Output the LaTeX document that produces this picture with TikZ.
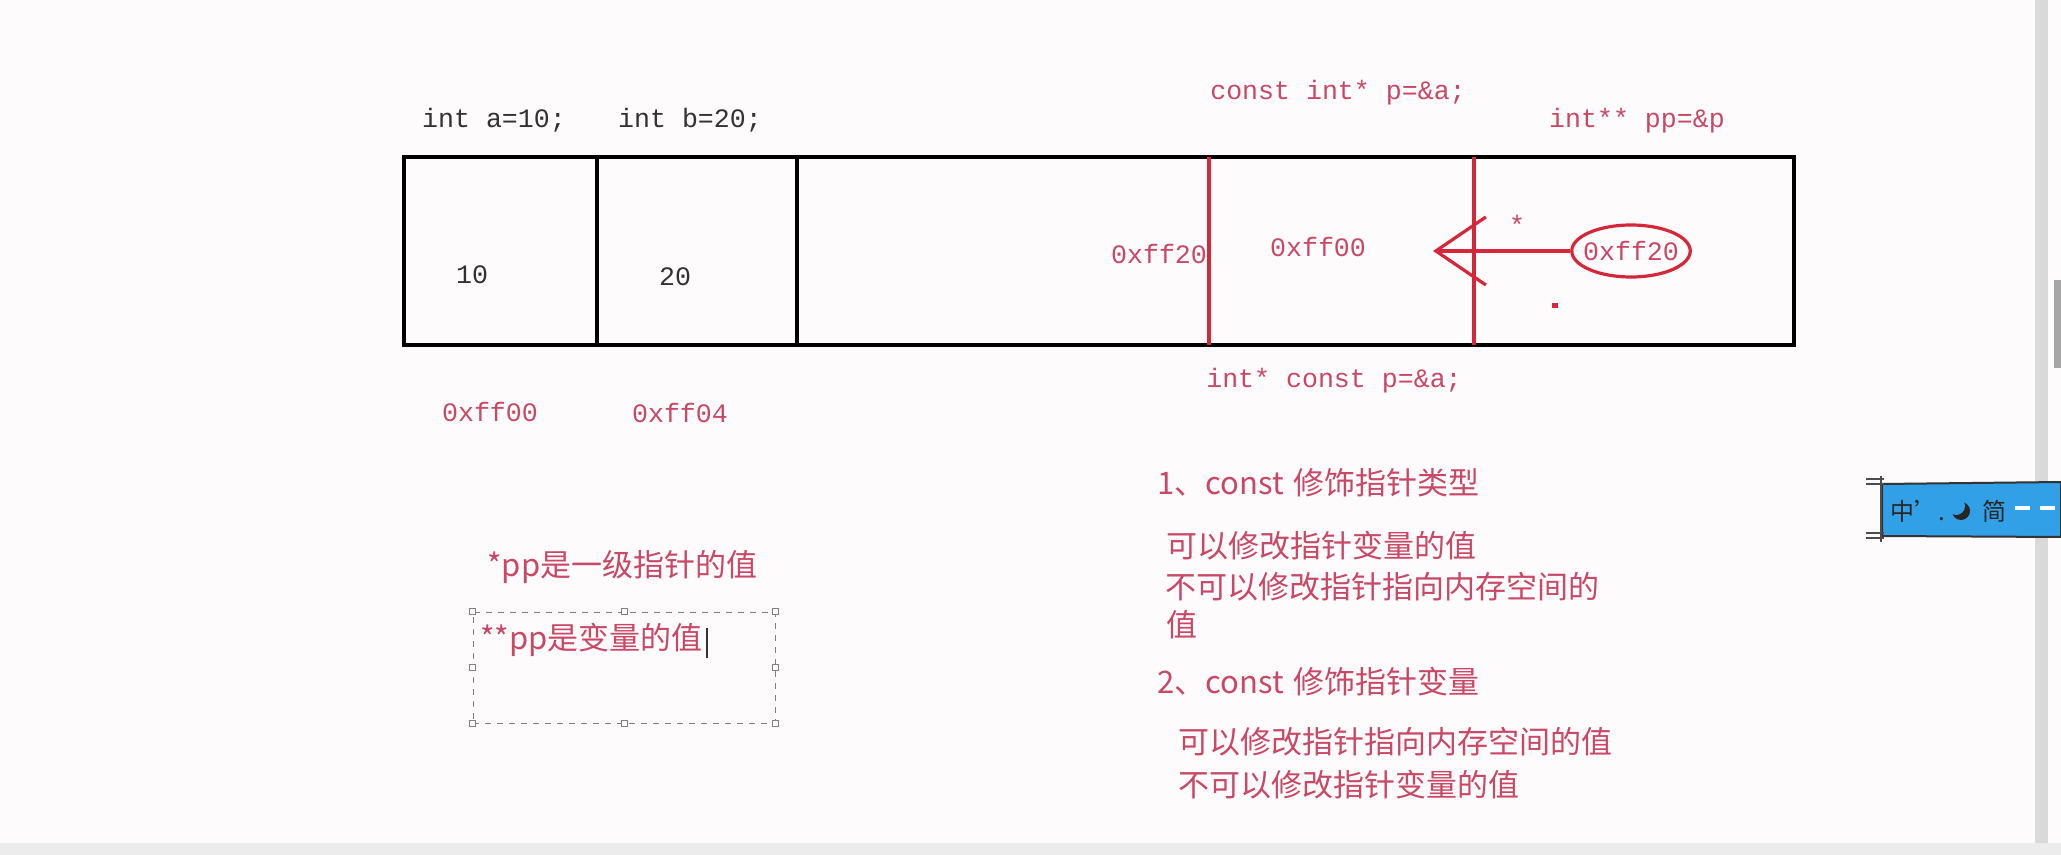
\documentclass[tikz,border=0pt]{standalone}
\usepackage{fontspec}
\setmonofont{Liberation Mono}
\newfontfamily\cjk{Noto Sans CJK SC}
\usepackage{tikz}
\usetikzlibrary{arrows.meta,shapes.geometric,positioning}
\definecolor{codered}{RGB}{200,72,102}
\definecolor{linered}{RGB}{214,38,58}
\definecolor{inkgray}{RGB}{50,50,50}
\definecolor{imeblue}{RGB}{50,160,230}
\definecolor{pagebg}{RGB}{253,251,252}

\begin{document}
\begin{tikzpicture}[x=0.5pt,y=-0.5pt,
    code/.style={font=\fontsize{13.3}{16}\selectfont\ttfamily,inner sep=0pt},
    blacktext/.style={code,text=inkgray},
    redtext/.style={code,text=codered},
    note/.style={font=\fontsize{15.5}{19}\selectfont\cjk,text=codered,inner sep=0pt,anchor=west},
    handle/.style={draw=gray,fill=white,line width=0.5pt,minimum size=3pt,inner sep=0pt}]
  \def\xl{404}
  \def\xr{1794}
  \def\yt{157}
  \def\yb{345}
  \useasboundingbox (0,0) rectangle (2061,855);
  % page
  \fill[pagebg] (0,0) rectangle (2061,855);
  \fill[gray!15] (0,843) rectangle (2061,855);
  \fill[gray!30] (2035,0) rectangle (2048,843);
  \fill[gray!70] (2054,280) rectangle (2061,368);
  % memory strip
  \draw[line width=2pt] (\xl,\yt) rectangle (\xr,\yb);
  \draw[line width=2pt] (597,\yt) -- (597,\yb);
  \draw[line width=2pt] (797,\yt) -- (797,\yb);
  \draw[linered,line width=1.6pt] (1209,\yt) -- (1209,\yb);
  \draw[linered,line width=1.6pt] (1474,\yt) -- (1474,\yb);
  % declarations
  \node[blacktext] (inta) at (494,120) {int a=10;};
  \node[blacktext] (intb) at (690,120) {int b=20;};
  \node[redtext] (cptr) at (1338,93) {const int* p=\&a;};
  \node[redtext] (ppdecl) at (1637,121) {int** pp=\&p};
  \node[redtext] (ptrc) at (1334,381) {int* const p=\&a;};
  % values
  \node[blacktext] (vala) at (472,275) {10};
  \node[blacktext] (valb) at (675,277) {20};
  \node[redtext] (addrp) at (1159,254) {0xff20};
  \node[redtext] (valp) at (1318,247) {0xff00};
  \node[redtext,draw=linered,line width=1.6pt,ellipse,inner xsep=-3pt,minimum height=26pt] (valpp) at (1631,251) {0xff20};
  \coordinate (tip) at (1433,251);
  \draw[linered,line width=1.6pt,-{Straight Barb[length=25pt,width=34pt]}] (valpp.west) -- (tip);
  \node[redtext] (deref) at (1517,225) {*};
  \fill[linered] (1552,303) rectangle (1558,308);
  % addresses
  \node[redtext] (addra) at (490,412) {0xff00};
  \node[redtext] (addrb) at (680,413) {0xff04};
  % notes
  \node[note] (pp1) at (487,567) {*pp是一级指针的值};
  \node[draw=gray,dashed,line width=0.5pt,minimum width=151pt,minimum height=55.5pt] (editbox) at (624,667.5) {};
  \foreach \a in {north west,north,north east,east,south east,south,south west,west}
    \node[handle] at (editbox.\a) {};
  \node[note] (pp2) at (480,640) {**pp是变量的值};
  \draw[inkgray,line width=0.8pt] (707,628) -- (707,658);
  \node[note] (rule1) at (1157,483) {1、const\hspace{5pt}修饰指针类型};
  \node[note] (r1a) at (1166,546) {可以修改指针变量的值};
  \node[note] (r1b) at (1165,587) {不可以修改指针指向内存空间的};
  \node[note] (r1c) at (1166,625) {值};
  \node[note] (rule2) at (1157,682) {2、const\hspace{5pt}修饰指针变量};
  \node[note] (r2a) at (1178,742) {可以修改指针指向内存空间的值};
  \node[note] (r2b) at (1178,785) {不可以修改指针变量的值};
  % input bar
  \fill[imeblue,draw=black!80,line width=1pt] (1882,484) -- (2061,482) -- (2061,537) -- (1882,536) -- cycle;
  \draw[black!70,line width=0.7pt] (1866,479) -- (1884,479) (1866,484) -- (1884,484)
    (1866,533) -- (1884,533) (1866,538) -- (1884,538) (1881,476) -- (1881,542);
  \node[font=\fontsize{12}{14}\selectfont\cjk,text=black!85,anchor=west,inner sep=0pt] (ime) at (1890,511) {中’.};
  \fill[black!85] (1961,511) circle (9);
  \fill[imeblue] (1956,506) circle (9);
  \node[font=\fontsize{12}{14}\selectfont\cjk,text=black!85,inner sep=0pt] (jian) at (1994,511) {简};
  \draw[white,line width=2pt] (2015,508) -- (2030,508) (2040,508) -- (2055,508);
\end{tikzpicture}
\end{document}
